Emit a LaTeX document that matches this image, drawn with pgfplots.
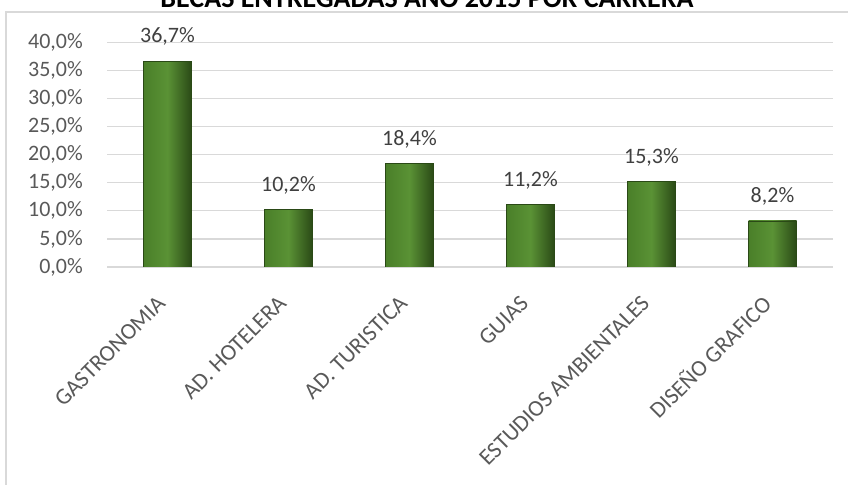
\documentclass[border=0pt]{standalone}
\usepackage{pgfplots}
\pgfplotsset{compat=1.18}
\usepackage{fontspec}
\setmainfont{Carlito}
\definecolor{gridc}{HTML}{D9D9D9}
\definecolor{tickc}{HTML}{595959}
\definecolor{valc}{HTML}{404040}
\definecolor{barL}{HTML}{4A7F29}
\definecolor{barM}{HTML}{5A9235}
\definecolor{barR}{HTML}{2A4916}
\newcommand\lbl{\fontsize{22bp}{26bp}\selectfont}
\pgfplotsset{bevel/.style={draw=barR, line width=0.6bp, left color=barL, right color=barR, middle color=barM}}
\begin{document}
\begin{tikzpicture}
\path[use as bounding box] (0,0) rectangle (848bp,485bp);
% chart area frame (only left and top edges are visible)
\draw[gridc, line width=1.2bp] (6bp,0) -- (6bp,473bp) -- (848bp,473bp);
\node[anchor=base, inner sep=0pt, font=\fontsize{28bp}{32bp}\selectfont\bfseries]
  at (427bp,477bp) {BECAS ENTREGADAS AÑO 2015 POR CARRERA};
\begin{axis}[
  at={(107bp,218bp)}, anchor=south west,
  scale only axis, width=726bp, height=224.5bp,
  xmin=-0.5, xmax=5.5, ymin=0, ymax=40,
  xtick={0,...,5},
  xticklabels={GASTRONOMIA,AD. HOTELERA,AD. TURISTICA,GUIAS,ESTUDIOS AMBIENTALES,DISEÑO GRAFICO},
  ytick={0,5,...,40},
  yticklabel={\pgfmathprintnumber[fixed,fixed zerofill,precision=1,use comma,assume math mode=true]{\tick}\%},
  axis line style={draw=none},
  tick style={draw=none},
  ymajorgrids, grid style={gridc, line width=1.2bp},
  tick label style={font=\lbl, text=tickc},
  yticklabel style={inner sep=0pt, anchor=east, xshift=-24bp},
  xticklabel style={inner sep=0pt, xshift=-6bp, yshift=-28bp, rotate=45, anchor=east, font=\fontsize{23bp}{26bp}\selectfont},
  ybar, bar width=48bp, /pgf/bar shift=0pt,
  nodes near coords={\pgfmathprintnumber[fixed,fixed zerofill,precision=1,use comma,assume math mode=true]{\pgfplotspointmeta}\%},
  every node near coord/.append style={font=\lbl, text=valc, inner sep=0pt, anchor=south, yshift=15bp},
]
% one plot per bar so that each bar gets its own shading
\addplot[bevel] coordinates {(0,36.7)};
\addplot[bevel] coordinates {(1,10.2)};
\addplot[bevel] coordinates {(2,18.4)};
\addplot[bevel] coordinates {(3,11.2)};
\addplot[bevel] coordinates {(4,15.3)};
\addplot[bevel] coordinates {(5,8.2)};
\end{axis}
\end{tikzpicture}
\end{document}
